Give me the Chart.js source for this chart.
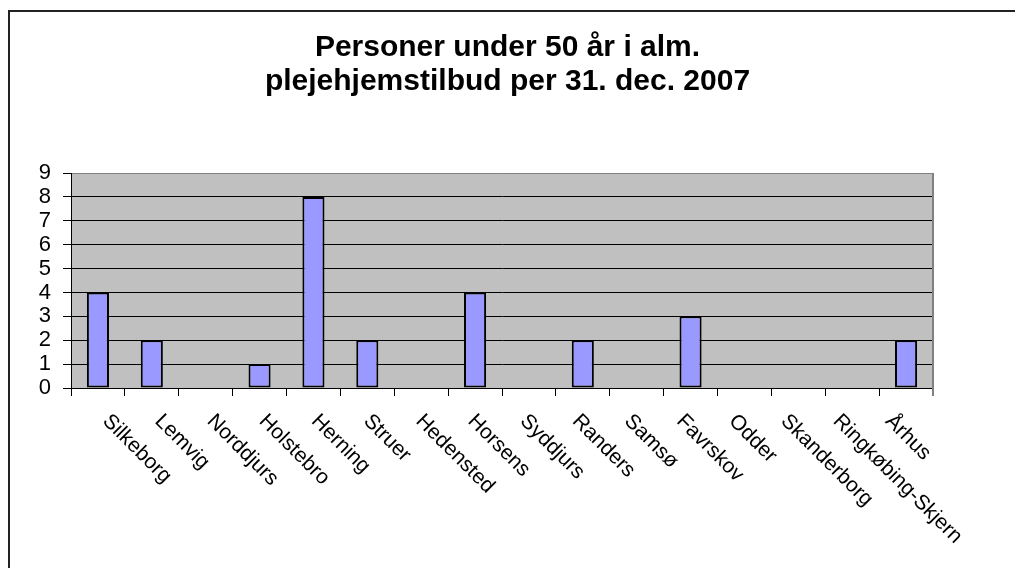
<!DOCTYPE html>
<html>
<head>
<meta charset="utf-8">
<script src="https://cdn.jsdelivr.net/npm/chart.js@4/dist/chart.umd.min.js"></script>
<style>
  html, body { margin: 0; padding: 0; background: #fff; overflow: hidden; }
  #wrap { position: relative; width: 1015px; height: 568px; }
  #frame { position: absolute; left: 8px; top: 10px; width: 2000px; height: 2000px;
           border-left: 2px solid #222; border-top: 2px solid #222; pointer-events: none; }
</style>
</head>
<body>
<div id="wrap">
  <canvas id="chart" width="1015" height="568"></canvas>
  <div id="frame"></div>
</div>
<script>
// data
const kommuner = ["Silkeborg", "Lemvig", "Norddjurs", "Holstebro", "Herning", "Struer", "Hedensted", "Horsens",
                  "Syddjurs", "Randers", "Samsø", "Favrskov", "Odder", "Skanderborg", "Ringkøbing-Skjern", "Århus"];
const personer = [4, 2, 0, 1, 8, 2, 0, 4, 0, 2, 0, 3, 0, 0, 0, 2];
const yMin = 0, yMax = 9, yStep = 1;
const titleLines = ["Personer under 50 år i alm.", "plejehjemstilbud per 31. dec. 2007"];

const FONT = "'Liberation Sans', Arial, sans-serif";

// grey plot background + grey right border
const plotArea = {
    id: "plotArea",
    beforeDraw(chart) {
        const a = chart.chartArea, ctx = chart.ctx;
        ctx.save();
        ctx.fillStyle = "#c0c0c0";
        ctx.fillRect(a.left, a.top, a.right - a.left, a.bottom - a.top);
        ctx.restore();
    },
    afterDatasetsDraw(chart) {
        const a = chart.chartArea, ctx = chart.ctx;
        ctx.save();
        ctx.strokeStyle = "#808080";
        ctx.lineWidth = 2;
        ctx.beginPath();
        ctx.moveTo(a.right, a.top);
        ctx.lineTo(a.right, a.bottom + 8);
        ctx.stroke();
        ctx.restore();
    }
};

// category labels turned 45 degrees clockwise (Chart.js only turns the other way)
const slantLabels = {
    id: "slantLabels",
    afterDraw(chart) {
        const xs = chart.scales.x, ctx = chart.ctx;
        ctx.save();
        ctx.font = "21px " + FONT;
        ctx.fillStyle = "#000";
        ctx.textAlign = "left";
        ctx.textBaseline = "middle";
        kommuner.forEach((name, i) => {
            const x = xs.getPixelForValue(i) + 8 - 1.7 * i;
            const y = xs.top + 30;
            ctx.save();
            ctx.translate(x, y);
            ctx.rotate(Math.PI / 4);
            ctx.fillText(name, 0, 0);
            ctx.restore();
        });
        ctx.restore();
    }
};

new Chart(document.getElementById("chart"), {
    type: "bar",
    data: {
        labels: kommuner,
        datasets: [{
            data: personer,
            backgroundColor: "#9999ff",
            borderColor: "#000",
            borderWidth: 2,
            borderSkipped: false,
            categoryPercentage: 1,
            barPercentage: 0.41
        }]
    },
    options: {
        responsive: false,
        animation: false,
        layout: { padding: 0 },
        plugins: {
            legend: { display: false },
            tooltip: { enabled: false },
            title: {
                display: true,
                text: titleLines,
                color: "#000",
                font: { family: FONT, size: 30, weight: "bold", lineHeight: "34px" },
                padding: { top: 31, bottom: 74 }
            }
        },
        scales: {
            x: {
                offset: true,
                grid: { offset: true, drawOnChartArea: false, drawTicks: true, tickLength: 8, color: "#000" },
                border: { color: "#000", width: 1 },
                ticks: { display: false },
                afterFit(scale) { scale.height = 180; }
            },
            y: {
                min: yMin,
                max: yMax,
                grid: {
                    color: ctx => (ctx.tick && ctx.tick.value === yMax) ? "#808080" : "#000",
                    lineWidth: 1,
                    tickLength: 8,
                    tickColor: "#000"
                },
                border: { color: "#000", width: 1 },
                ticks: { stepSize: yStep, autoSkip: false, color: "#000",
                         font: { family: FONT, size: 22, lineHeight: 1 }, padding: 12 },
                afterFit(scale) { scale.width = 71; }
            },
            // empty right-hand space so the title centres on the whole canvas
            yRight: {
                position: "right",
                display: true,
                grid: { display: false, drawTicks: false },
                border: { display: false },
                ticks: { display: false },
                afterFit(scale) { scale.width = 82; }
            }
        }
    },
    plugins: [plotArea, slantLabels]
});
</script>
</body>
</html>
